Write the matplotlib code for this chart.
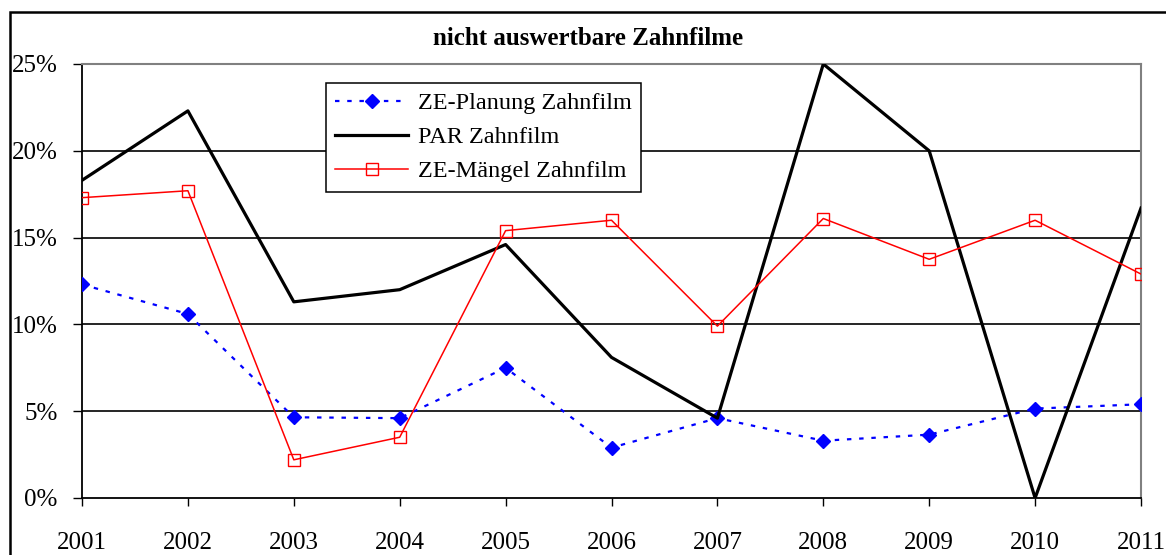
import matplotlib
matplotlib.use("Agg")
import matplotlib.pyplot as plt
from matplotlib.patches import Rectangle
from matplotlib.ticker import FuncFormatter

plt.rcParams["font.family"] = ["Liberation Serif", "DejaVu Serif"]

years = [2001, 2002, 2003, 2004, 2005, 2006, 2007, 2008, 2009, 2010, 2011]
# values in percent
ze_planung = [12.3, 10.6, 4.65, 4.6, 7.5, 2.9, 4.6, 3.3, 3.65, 5.15, 5.4]
par = [18.3, 22.3, 11.3, 12.0, 14.6, 8.1, 4.6, 25.0, 20.0, 0.0, 16.7]
ze_maengel = [17.3, 17.7, 2.2, 3.5, 15.4, 16.0, 9.9, 16.1, 13.75, 16.0, 12.9]

labels = ["ZE-Planung Zahnfilm", "PAR Zahnfilm", "ZE-Mängel Zahnfilm"]
title = "nicht auswertbare Zahnfilme"

W, H = 1166, 555
fig = plt.figure(figsize=(W / 100, H / 100), dpi=100)
ax = fig.add_axes([82 / W, 1 - 498 / H, (1141 - 82) / W, (498 - 64) / H])

# outer chart frame (cut off at right/bottom like the reference)
fig.patches.append(Rectangle((9.5 / W, -0.1), 1.2, 1 - 11.5 / H + 0.1,
                             transform=fig.transFigure, fill=False,
                             edgecolor="black", linewidth=1.8))

for y in [5, 10, 15, 20]:
    ax.axhline(y, color="black", linewidth=1.2, zorder=1)

ax.plot(years, ze_planung, color="blue", linestyle=(0, (2, 3.5)),
        linewidth=1.6, marker="D", markersize=7.5, markeredgecolor="blue",
        markerfacecolor="blue", label=labels[0], zorder=3)
ax.plot(years, par, color="black", linewidth=2.3, label=labels[1], zorder=3)
ax.plot(years, ze_maengel, color="red", linewidth=1.1, marker="s",
        markersize=9, markerfacecolor="none", markeredgecolor="red",
        markeredgewidth=1.0, label=labels[2], zorder=4)

ax.set_xlim(2001, 2011)
ax.set_ylim(0, 25)
ax.set_xticks(years)
ax.set_yticks([0, 5, 10, 15, 20, 25])
ax.yaxis.set_major_formatter(FuncFormatter(lambda v, p: f"{v:.0f}%"))
ax.tick_params(axis="y", direction="out", length=6.5, width=1.0,
               pad=11, labelsize=18)
ax.tick_params(axis="x", direction="out", length=5.5, width=1.0,
               pad=19, labelsize=18)

for side in ["left", "bottom"]:
    ax.spines[side].set_color("black")
    ax.spines[side].set_linewidth(1.3)
for side in ["top", "right"]:
    ax.spines[side].set_color("#808080")
    ax.spines[side].set_linewidth(1.5)

fig.text(588 / W, 1 - 38.5 / H, title, ha="center", va="center",
         fontsize=18, fontweight="bold")

leg = ax.legend(loc="upper left", bbox_to_anchor=(325.7 / W, 1 - 82.7 / H),
                bbox_transform=fig.transFigure, borderaxespad=0,
                fontsize=17.5, frameon=True, fancybox=False, framealpha=1,
                edgecolor="black", handlelength=3.0, handletextpad=0.38,
                labelspacing=0.49, borderpad=0.4, numpoints=1)
leg.get_frame().set_linewidth(1.1)

fig.savefig("out.png", dpi=100)
